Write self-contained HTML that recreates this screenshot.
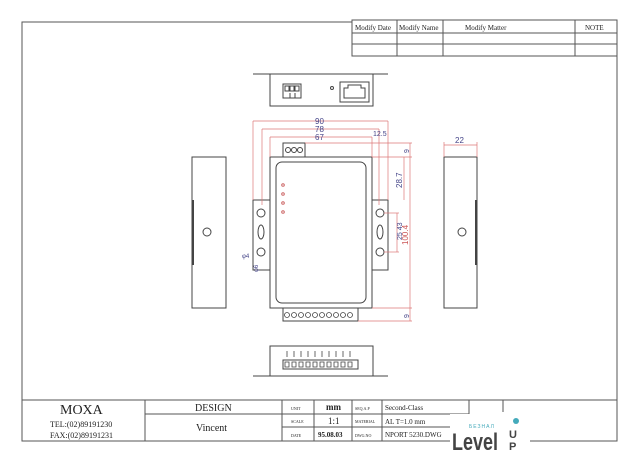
<!DOCTYPE html>
<html><head><meta charset="utf-8"><style>
body{margin:0;background:#fff}
svg{display:block}
.sr{font-family:"Liberation Serif",serif}
.ss{font-family:"Liberation Sans",sans-serif}
</style></head><body>
<svg width="640" height="464" viewBox="0 0 640 464" xmlns="http://www.w3.org/2000/svg">
<g fill="none" stroke="#555" stroke-width="1">
<polyline points="352,22 22,22 22,441 617,441 617,20"/>
<rect x="352" y="20" width="265" height="36"/>
<line x1="352" y1="33" x2="617" y2="33"/><line x1="352" y1="44" x2="617" y2="44"/>
<line x1="397" y1="20" x2="397" y2="56"/><line x1="443" y1="20" x2="443" y2="56"/><line x1="575" y1="20" x2="575" y2="56"/>
<line x1="22" y1="400" x2="617" y2="400"/>
<line x1="145" y1="400" x2="145" y2="441"/><line x1="282" y1="400" x2="282" y2="441"/>
<line x1="145" y1="414" x2="282" y2="414"/>
<line x1="314" y1="400" x2="314" y2="441"/><line x1="352" y1="400" x2="352" y2="441"/>
<line x1="382" y1="400" x2="382" y2="441"/><line x1="469" y1="400" x2="469" y2="441"/><line x1="503" y1="400" x2="503" y2="412"/>
<line x1="282" y1="414" x2="469" y2="414"/><line x1="282" y1="427" x2="469" y2="427"/>
</g>
<g font-size="8" fill="#222" class="sr">
<text x="355" y="30" font-size="7">Modify Date</text><text x="399" y="30" font-size="7">Modify Name</text><text x="465" y="30" font-size="7">Modify Matter</text><text x="585" y="30" font-size="7">NOTE</text>
<text x="60" y="414" font-size="14">MOXA</text>
<text x="50" y="427">TEL:(02)89191230</text><text x="50" y="438">FAX:(02)89191231</text>
<text x="195" y="411" font-size="10">DESIGN</text><text x="196" y="431" font-size="10">Vincent</text>
<text x="291" y="410" font-size="4">UNIT</text><text x="291" y="423" font-size="4">SCALE</text><text x="291" y="437" font-size="4">DATE</text>
<text x="326" y="410" font-size="9" font-weight="bold">mm</text><text x="328" y="424" font-size="9">1:1</text><text x="318" y="437" font-size="7" font-weight="bold">95.08.03</text>
<text x="355" y="410" font-size="4">SEQ.A.P</text><text x="355" y="423" font-size="4">MATERIAL</text><text x="355" y="437" font-size="4">DWG.NO</text>
<text x="385" y="410" font-size="7">Second-Class</text><text x="385" y="424" font-size="7">AL T=1.0 mm</text><text x="385" y="437" font-size="7">NPORT 5230.DWG</text>
</g>
<rect x="450" y="414" width="80" height="42" fill="#fff"/>
<text x="469" y="428" font-size="5" fill="#4ab" class="ss" letter-spacing="1">БЕЗНАЛ</text>
<text x="452" y="450" font-size="24" font-weight="bold" fill="#444" class="ss" textLength="46" lengthAdjust="spacingAndGlyphs">Level</text>
<text x="509" y="438" font-size="11" font-weight="bold" fill="#444" class="ss">U</text>
<text x="509" y="450" font-size="11" font-weight="bold" fill="#444" class="ss">P</text>
<circle cx="516" cy="421" r="3" fill="#4ab"/>
<g fill="none" stroke="#444" stroke-width="1">
<line x1="253" y1="74" x2="388" y2="74"/>
<rect x="270" y="74" width="103" height="32"/>
<rect x="283" y="84" width="18" height="14"/>
<rect x="285" y="86" width="4" height="5"/><rect x="290" y="86" width="4" height="5"/><rect x="295" y="86" width="4" height="5"/>
<line x1="290" y1="93" x2="290" y2="98"/><line x1="295" y1="93" x2="295" y2="98"/>
<circle cx="332" cy="88" r="1.5"/>
<rect x="340" y="82" width="29" height="20"/><path d="M344 98V88h4v-3h13v3h4v10z"/>
<rect x="270" y="157" width="102" height="151"/>
<rect x="276" y="162" width="90" height="141" rx="6"/>
<rect x="253" y="200" width="17" height="70"/><rect x="372" y="200" width="16" height="70"/>
<circle cx="261" cy="213" r="4"/><circle cx="261" cy="252" r="4"/><circle cx="380" cy="213" r="4"/><circle cx="380" cy="252" r="4"/>
<ellipse cx="261" cy="232" rx="3" ry="7"/><ellipse cx="380" cy="232" rx="3" ry="7"/>
<rect x="283" y="143" width="22" height="14"/>
<circle cx="288" cy="150" r="2.5"/><circle cx="294" cy="150" r="2.5"/><circle cx="300" cy="150" r="2.5"/>
<rect x="283" y="308" width="75" height="13"/>
<g stroke="#c66"><circle cx="283" cy="185" r="1.3"/><circle cx="283" cy="194" r="1.3"/><circle cx="283" cy="203" r="1.3"/><circle cx="283" cy="212" r="1.3"/></g>
<rect x="192" y="157" width="34" height="151"/><rect x="444" y="157" width="33" height="151"/>
<circle cx="207" cy="232" r="4"/><circle cx="462" cy="232" r="4"/>
<line x1="193" y1="200" x2="193" y2="265" stroke-width="2"/><line x1="476" y1="200" x2="476" y2="265" stroke-width="2"/>
<rect x="270" y="346" width="103" height="30"/>
<line x1="253" y1="376" x2="388" y2="376"/>
<rect x="283" y="360" width="75" height="9"/>
</g>
<g fill="none" stroke="#444" stroke-width="0.8">
<circle cx="287" cy="315" r="2.5"/><circle cx="294" cy="315" r="2.5"/><circle cx="301" cy="315" r="2.5"/><circle cx="308" cy="315" r="2.5"/><circle cx="315" cy="315" r="2.5"/><circle cx="322" cy="315" r="2.5"/><circle cx="329" cy="315" r="2.5"/><circle cx="336" cy="315" r="2.5"/><circle cx="343" cy="315" r="2.5"/><circle cx="350" cy="315" r="2.5"/>
<path d="M285 362h4v5h-4zM292 362h4v5h-4zM299 362h4v5h-4zM306 362h4v5h-4zM313 362h4v5h-4zM320 362h4v5h-4zM327 362h4v5h-4zM334 362h4v5h-4zM341 362h4v5h-4zM348 362h4v5h-4z"/>
<path d="M287 351v6M294 351v6M301 351v6M308 351v6M315 351v6M322 351v6M329 351v6M336 351v6M343 351v6M350 351v6"/>
</g>
<g fill="none" stroke="#d77" stroke-width="0.7">
<line x1="253" y1="121" x2="388" y2="121"/><line x1="262" y1="129" x2="379" y2="129"/><line x1="270" y1="137" x2="372" y2="137"/>
<line x1="253" y1="121" x2="253" y2="200"/><line x1="388" y1="121" x2="388" y2="200"/>
<line x1="262" y1="129" x2="262" y2="205"/><line x1="379" y1="129" x2="379" y2="205"/>
<line x1="270" y1="137" x2="270" y2="157"/><line x1="372" y1="137" x2="372" y2="157"/>
<line x1="305" y1="143" x2="412" y2="143"/><line x1="372" y1="157" x2="412" y2="157"/><line x1="358" y1="321" x2="412" y2="321"/><line x1="372" y1="308" x2="412" y2="308"/>
<line x1="410" y1="143" x2="410" y2="321"/><line x1="404" y1="157" x2="404" y2="200"/>
<line x1="384" y1="213" x2="399" y2="213"/><line x1="384" y1="252" x2="399" y2="252"/><line x1="397" y1="213" x2="397" y2="252"/>
<line x1="444" y1="145" x2="477" y2="145"/><line x1="444" y1="142" x2="444" y2="157"/><line x1="477" y1="142" x2="477" y2="157"/>
</g>
<g font-size="8" fill="#448" class="ss">
<text x="315" y="124">90</text><text x="315" y="132">78</text><text x="315" y="140">67</text><text x="373" y="136" font-size="7">12.5</text>
<text x="455" y="143">22</text>
<text transform="translate(409,153) rotate(-90)" font-size="7">9</text>
<text transform="translate(402,188) rotate(-90)">28.7</text>
<text transform="translate(402,240) rotate(-90)" font-size="7">25 43</text>
<text transform="translate(408,245) rotate(-90)" fill="#c55">100.4</text>
<text transform="translate(409,318) rotate(-90)" font-size="7">9</text>
<text x="242" y="258" font-size="6">φ4</text><text transform="translate(258,272) rotate(-90)" font-size="6">φ6</text>
</g>
</svg>
</body></html>
